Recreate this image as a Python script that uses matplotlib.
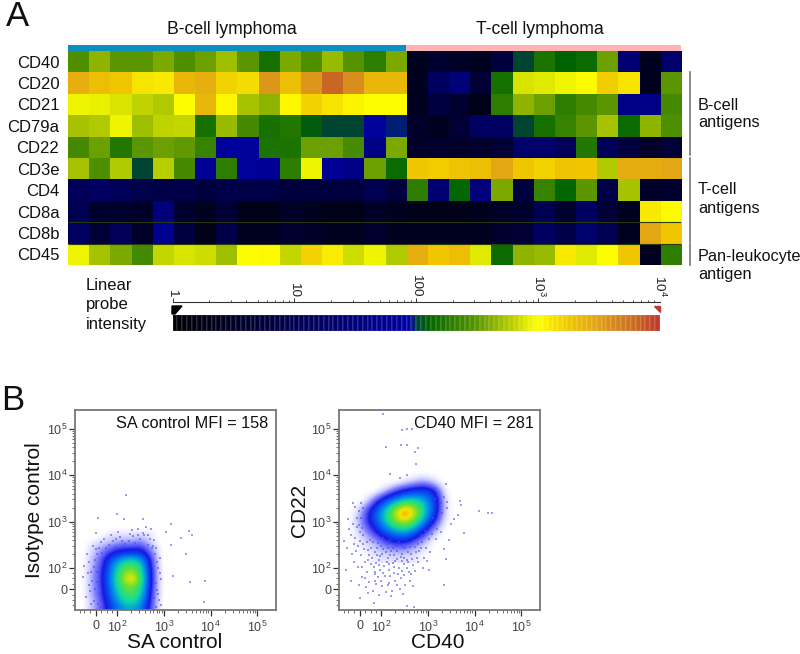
import numpy as np
import matplotlib
matplotlib.use("Agg")
import matplotlib.pyplot as plt
from matplotlib.colors import LinearSegmentedColormap, Normalize
from matplotlib.patches import Polygon
from matplotlib.ticker import NullLocator

plt.rcParams['font.family'] = ['Liberation Sans', 'DejaVu Sans']
plt.rcParams['mathtext.default'] = 'regular'
plt.rcParams['mathtext.fontset'] = 'custom'
plt.rcParams['mathtext.rm'] = 'Liberation Sans'

W, H = 800, 654

markers = ['CD40', 'CD20', 'CD21', 'CD79a', 'CD22', 'CD3e', 'CD4', 'CD8a', 'CD8b', 'CD45']
groups = ['B-cell lymphoma', 'T-cell lymphoma']
# log10 probe intensity, one row per marker
bcell = [
 [2.45,2.65,2.50,2.50,2.60,2.45,2.55,2.70,2.50,2.20,2.60,2.45,2.68,2.48,2.30,2.60],
 [3.40,3.30,3.25,3.12,3.10,3.35,3.40,3.20,3.15,3.55,3.30,3.55,3.80,3.60,3.35,3.35],
 [2.95,2.93,2.88,2.80,2.75,3.00,3.35,3.03,2.72,2.65,3.03,3.20,3.12,3.05,3.00,3.00],
 [2.72,2.75,2.95,2.70,2.80,2.82,2.20,2.68,2.40,2.20,2.25,2.08,2.02,2.02,1.85,1.98],
 [2.40,2.55,2.25,2.50,2.55,2.52,2.35,1.85,1.85,2.22,2.22,2.55,2.55,2.42,1.60,2.60],
 [2.72,2.45,2.75,2.02,2.78,2.40,1.80,2.30,1.85,1.80,2.30,2.95,1.80,1.60,2.55,2.15],
 [1.10,1.20,1.10,0.95,0.90,0.90,0.80,0.90,0.90,0.90,0.80,0.80,0.80,0.80,1.00,0.80],
 [1.00,0.60,0.60,0.50,1.50,0.60,0.40,0.70,0.30,0.30,0.50,0.40,0.30,0.30,0.50,0.40],
 [1.20,0.70,1.10,0.50,1.70,0.80,0.30,0.90,0.40,0.40,0.60,0.50,0.40,0.40,0.60,0.40],
 [2.95,2.72,2.60,2.40,2.82,2.88,2.85,2.70,3.00,3.02,2.82,3.20,3.08,2.85,2.95,2.75],
]
tcell = [
 [0.40,0.60,0.50,0.40,0.80,2.02,2.22,2.10,2.15,2.55,1.40,0.40,1.30],
 [0.40,1.20,1.45,0.70,2.20,2.88,2.90,2.95,3.02,3.22,3.12,0.40,2.50],
 [0.40,0.80,0.60,0.30,2.30,2.65,2.55,2.30,2.40,2.50,1.60,1.60,2.40],
 [0.50,0.40,0.70,1.20,1.20,2.02,2.20,2.35,2.50,2.72,2.15,2.65,2.45],
 [0.50,0.60,0.50,0.60,0.70,1.30,1.30,1.10,2.25,1.10,0.80,0.50,0.70],
 [3.25,3.22,3.28,3.30,3.45,3.25,3.20,3.27,3.25,2.75,3.42,3.42,3.45],
 [2.30,1.40,2.12,1.50,2.60,0.80,2.35,2.12,2.50,0.90,2.72,0.50,0.60],
 [0.30,0.30,0.30,0.40,0.50,0.60,1.00,0.60,1.20,0.70,0.40,3.10,3.02],
 [0.40,0.40,0.40,0.40,0.60,0.70,1.20,0.90,1.30,1.00,0.40,3.45,3.25],
 [3.40,3.25,3.30,2.90,2.15,2.65,2.68,3.10,2.90,3.00,3.25,0.40,2.30],
]
scale_ticks = [1, 10, 100, 1000, 10000]
scale_labels = ['1', '10', '100', '$10^3$', '$10^4$']

flow_ticks = [1.54, 2, 3, 4, 5]
flow_ticklabels = ['0', '$10^2$', '$10^3$', '$10^4$', '$10^5$']

d1_x = [1.1,1.3,1.5,1.7,1.9,2.1,2.3,2.5,2.7,2.9,3.1]
d1_y = [1.09,1.2,1.31,1.42,1.53,1.64,1.75,1.86,1.97,2.08,2.19,2.30,2.41,2.52,2.63,2.74,2.85,2.96]
d1 = [
 [0,0,.03,.08,.20,.30,.36,.26,.07,0,0],
 [0,0,.03,.08,.20,.34,.40,.30,.08,0,0],
 [0,0,.03,.09,.24,.42,.48,.36,.08,0,0],
 [0,0,.04,.10,.27,.46,.54,.40,.09,0,0],
 [0,0,.04,.10,.30,.50,.60,.44,.10,0,0],
 [0,0,.04,.11,.32,.54,.66,.48,.10,0,0],
 [0,0,.04,.11,.33,.60,.85,.50,.11,0,0],
 [0,0,.04,.11,.32,.56,.72,.48,.10,0,0],
 [0,0,.04,.10,.30,.52,.62,.46,.10,0,0],
 [0,0,.03,.09,.27,.44,.50,.40,.09,0,0],
 [0,0,.03,.08,.20,.32,.38,.30,.08,0,0],
 [0,0,.02,.06,.12,.16,.18,.18,.06,0,0],
 [0,0,.02,.04,.08,.10,.10,.11,.04,0,0],
 [0,0,.01,.02,.03,.05,.05,.06,.02,0,0],
 [0,0,0,.01,.02,.02,.02,.03,.01,0,0],
 [0,0,0,0,.01,.01,.01,.01,.01,0,0],
 [0,0,0,0,0,0,0,0,0,0,0],
 [0,0,0,0,0,0,0,0,0,0,0],
]
d2_x = [1.3,1.5,1.7,1.9,2.1,2.3,2.5,2.7,2.9,3.1,3.3,3.5]
d2_y = [2.2,2.4,2.6,2.8,3.0,3.2,3.4,3.6,3.8,4.0]
d2 = [
 [0,0,0,.01,.01,.01,.01,.01,0,0,0,0],
 [0,0,.01,.02,.03,.04,.04,.02,.01,0,0,0],
 [0,.01,.02,.04,.10,.14,.14,.08,.03,0,0,0],
 [0,.01,.05,.13,.24,.34,.38,.26,.12,.03,0,0],
 [0,.02,.10,.22,.42,.62,.72,.55,.30,.11,.01,0],
 [0,.01,.09,.24,.44,.72,.98,.75,.42,.20,.02,0],
 [0,0,.01,.10,.24,.38,.50,.50,.38,.21,.02,0],
 [0,0,0,0,.03,.10,.17,.21,.23,.17,.01,0],
 [0,0,0,0,0,0,.01,.03,.05,.02,0,0],
 [0,0,0,0,0,0,0,0,0,0,0,0],
]
# sparse events
p1_pts = [(2.19,3.58),(1.99,3.16),(1.60,3.07),(2.15,3.05),(2.55,3.05),(3.16,2.94),(3.53,2.80),(3.60,2.70),
 (3.37,2.65),(3.05,2.78),(3.15,2.50),(3.47,2.30),(3.20,1.82),(3.55,1.70),(3.88,1.72),(3.85,1.27),
 (1.55,2.75),(1.72,2.62),(1.88,2.70),(2.02,2.78),(2.28,2.73),(2.45,2.85),(2.62,2.88),(2.72,2.83),(2.80,2.60),
 (2.66,2.50),(1.48,2.48),(1.62,2.42),(1.36,2.30),(1.30,2.05),(1.27,1.80),(1.40,1.62),(1.34,1.38),(1.44,1.22),
 (2.92,2.22),(2.88,2.00),(2.95,1.75),(2.86,1.52),(2.90,1.30),(2.84,1.15),(1.52,2.18),(1.45,1.92),(1.57,1.70),
 (1.62,1.45),(1.58,2.30),(2.74,2.42),(2.35,2.68),(2.50,2.62),(2.10,2.58),(1.82,2.50),(2.82,2.30),(2.78,1.92),
 (1.40,2.12),(1.38,1.88),(1.42,1.50),(1.50,1.28),(1.46,1.72),(1.52,1.55),(1.50,2.02),(1.55,2.40),(1.66,2.55),
 (1.76,2.44),(1.92,2.58),(1.96,2.46),(2.06,2.66),(2.18,2.52),(2.26,2.58),(2.38,2.54),(2.44,2.70),(2.58,2.70),
 (2.70,2.62),(2.76,2.48),(2.84,2.44),(2.86,2.12),(2.92,1.88),(2.84,1.68),(2.88,1.44),(2.94,1.20),(2.80,1.36),
 (2.78,1.08),(1.60,1.22),(1.64,1.15),(1.58,1.92),(1.68,2.32),(2.32,2.82),(2.56,2.76),(2.66,2.72),(1.98,2.62)]
p2_pts = [(2.05,5.32),(2.42,5.42),(2.45,4.98),(2.56,5.00),(2.66,5.00),(2.10,4.62),(2.42,4.65),(2.55,4.66),(2.72,4.50),
 (2.78,4.58),(2.75,4.25),(2.40,3.95),(2.20,4.02),(2.55,4.00),(3.38,3.82),(3.15,3.72),(3.42,3.42),(3.68,3.45),
 (3.72,3.35),(3.65,3.15),(3.55,3.05),(3.40,3.30),(3.50,2.95),(3.15,3.48),(4.10,3.22),(4.28,3.18),(4.38,3.18),
 (3.78,2.75),(3.45,2.60),(3.35,2.40),(3.38,2.20),(3.35,1.62),
 (1.20,2.58),(1.32,2.85),(1.28,2.42),(1.38,2.30),(1.45,2.65),(1.50,2.48),(1.55,2.78),(1.42,2.12),(1.50,2.02),
 (1.58,2.28),(1.62,2.52),(1.66,2.12),(1.70,1.92),(1.72,2.38),(1.76,2.60),(1.80,2.22),(1.84,2.02),(1.88,1.86),
 (1.92,2.42),(1.95,2.18),(1.98,1.96),(2.02,2.30),(2.06,2.05),(2.08,1.82),(2.12,2.52),(2.15,2.22),(2.18,1.95),
 (2.22,2.36),(2.25,2.10),(2.28,1.88),(2.32,2.48),(2.35,2.20),(2.38,2.00),(2.42,1.78),(2.45,2.30),(2.48,2.08),
 (2.52,2.42),(2.56,2.18),(2.60,1.92),(2.64,2.30),(2.68,2.06),(2.72,2.45),(2.76,2.22),(2.82,2.36),(2.88,2.55),
 (2.92,2.22),(2.96,2.42),(3.02,2.62),(3.05,2.35),(1.25,1.95),(1.35,1.72),(1.52,1.62),(1.60,1.80),(1.68,1.58),
 (1.75,1.70),(1.82,1.50),(1.90,1.65),(1.95,1.42),(2.02,1.60),(2.10,1.48),(2.18,1.68),(2.24,1.50),(2.30,1.72),
 (2.40,1.55),(2.52,1.62),(2.62,1.72),(1.85,1.25),(2.55,1.18),(2.70,1.15),(1.55,1.35),(1.62,2.72),(1.48,2.88),
 (1.40,2.95),(1.30,3.05),(1.58,3.08),(1.52,3.22),(1.45,3.32),(1.40,3.40),(1.88,2.74),(2.05,2.65),(2.20,2.60),
 (1.72,2.16),(1.78,2.44),(1.90,2.10),(2.00,2.48),(2.10,2.34),(2.28,2.28),(2.44,2.14),(2.58,2.34),(2.70,2.58),
 (2.85,2.72),(2.95,2.80),(3.10,2.92),(3.22,3.05),(3.28,2.78),(3.18,2.62),
 (1.64,2.40),(1.70,2.56),(1.74,2.28),(1.82,2.56),(1.86,2.34),(1.94,2.54),(1.98,2.26),(2.04,2.40),(2.08,2.56),
 (2.14,2.42),(2.16,2.08),(2.20,2.28),(2.26,2.44),(2.30,2.14),(2.34,2.36),(2.38,2.56),(2.42,2.24),(2.46,2.46),
 (2.50,2.22),(2.54,2.52),(2.58,2.12),(2.62,2.46),(2.66,2.20),(2.74,2.34),(2.78,2.52),(2.80,2.12),(2.86,2.44),
 (1.78,2.08),(1.86,1.92),(1.92,2.28),(1.96,2.06),(2.04,1.90),(2.12,2.12),(2.20,1.82),(2.28,2.02),(2.36,1.86),
 (2.44,1.94),(2.50,1.84),(2.56,2.00),(2.64,1.86),(2.72,1.94),(1.66,1.78),(1.72,1.46),(1.86,1.72),(1.94,1.80),
 (2.00,1.72),(2.14,1.62),(2.22,1.40),(2.34,1.62),(2.46,1.44),(2.68,1.60),(2.90,2.00),(2.98,2.14),(3.02,1.96),
 (1.46,2.36),(1.54,2.58),(1.60,2.02),(1.42,2.52),(1.36,2.70),(1.52,2.92),(1.60,2.86),(1.48,3.08),(3.10,2.74),
 (3.04,2.86),(3.20,2.84),(3.12,3.08),(3.30,3.18),(3.28,3.40),(3.34,3.54),(3.22,3.58),(1.62,3.30),(1.58,3.40)]

# colour scale: log10 intensity 0..4
nodes = [(0.00,(0,0,0)),(1.00,(0,0,80)),(1.95,(0,0,165)),(2.02,(0,70,50)),(2.10,(0,100,0)),(2.50,(90,150,0)),
         (2.75,(175,200,0)),(3.00,(255,255,0)),(3.25,(240,200,0)),(3.50,(225,160,25)),(3.80,(200,105,35)),(4.00,(190,55,45))]
heat_cmap = LinearSegmentedColormap.from_list('probe', [(v/4, tuple(c/255 for c in rgb)) for v, rgb in nodes], N=512)
heat_norm = Normalize(0, 4)
flow_cmap = LinearSegmentedColormap.from_list('flow', [(0,(1,1,1)),(.012,(.88,.88,1)),(.05,(.5,.5,1)),(.12,(.08,.1,.9)),
    (.28,(0,.5,.95)),(.42,(.05,.85,.65)),(.58,(.4,.88,.2)),(.75,(.95,.9,0)),(.88,(1,.5,0)),(1,(.93,.1,.05))], N=512)

def axpx(x0, y0, x1, y1):
    return fig.add_axes([x0/W, 1-y1/H, (x1-x0)/W, (y1-y0)/H])

fig = plt.figure(figsize=(W/100, H/100), dpi=100, facecolor='white')

# overlay in pixel coordinates for labels and brackets
ov = fig.add_axes([0, 0, 1, 1], zorder=5)
ov.set_xlim(0, W); ov.set_ylim(H, 0); ov.axis('off'); ov.patch.set_alpha(0)

# heat map
ax = axpx(67.7, 51, 681, 265)
M = np.hstack([np.array(bcell), np.array(tcell)])
ncol = M.shape[1]
ax.imshow(M, aspect='auto', cmap=heat_cmap, norm=heat_norm, interpolation='nearest')
ax.set_xticks([]); ax.set_yticks(range(len(markers)))
ax.set_yticklabels(markers, fontsize=12, color='#111111')
ax.tick_params(axis='y', length=0, pad=6)
for s in ax.spines.values():
    s.set_visible(False)
ax.hlines([7.5, 8.5], -0.5, ncol-0.5, color='#2a3a10', lw=0.8)

# group bars
nb = len(bcell[0])
gb = axpx(67.7, 45, 681, 51)
gb.set_xlim(-0.5, ncol-0.5); gb.set_ylim(0, 1); gb.axis('off')
gb.barh(0.5, nb, left=-0.5, height=1, color='#0b8fbf')
gb.barh(0.5, ncol-nb, left=nb-0.5, height=1, color='#ffb3b3')
ov.text(232, 30, groups[0], ha='center', va='center', fontsize=12.7, color='#111111')
ov.text(540, 30, groups[1], ha='center', va='center', fontsize=12.7, color='#111111')
ov.text(18, 16, 'A', ha='center', va='center', fontsize=25, color='#111111')
ov.text(13, 400, 'B', ha='center', va='center', fontsize=25, color='#111111')

for y0, y1 in [(72, 155), (158, 241.5), (244, 265)]:
    ov.plot([689.5, 689.5], [y0, y1], color='#777777', lw=1.2)
ov.text(698, 114, 'B-cell\nantigens', ha='left', va='center', fontsize=11.7, linespacing=1.25, color='#111111')
ov.text(698, 199, 'T-cell\nantigens', ha='left', va='center', fontsize=11.7, linespacing=1.25, color='#111111')
ov.text(698, 266, 'Pan-leukocyte\nantigen', ha='left', va='center', fontsize=11.7, linespacing=1.25, color='#111111')
ov.text(86, 305, 'Linear\nprobe\nintensity', ha='left', va='center', fontsize=12, linespacing=1.4, color='#111111')

# colour scale bar
cb = axpx(172.5, 315, 660, 331)
edges = np.logspace(0, 4, 101)
cb.pcolormesh(edges, [0, 1], np.log10(np.sqrt(edges[:-1]*edges[1:]))[None, :], cmap=heat_cmap, norm=heat_norm,
              edgecolors='#ffffff18', linewidth=0.2)
cb.set_xscale('log'); cb.set_xlim(1, 10000); cb.axis('off')

sc = axpx(172.5, 298, 660, 302)
sc.set_xscale('log'); sc.set_xlim(1, 10000); sc.set_ylim(0, 1)
sc.patch.set_alpha(0)
for k in ['left', 'right', 'top']:
    sc.spines[k].set_visible(False)
sc.spines['bottom'].set_color('#333333')
sc.spines['bottom'].set_linewidth(0.8)
sc.set_yticks([])
sc.xaxis.tick_top()
sc.set_xticks(scale_ticks)
sc.set_xticklabels(scale_labels, rotation=-90, fontsize=9.7, color='#222222', va='bottom')
sc.tick_params(axis='x', which='major', direction='out', length=0, pad=1)
sc.xaxis.set_minor_locator(NullLocator())
minor = [m*10**k for k in range(4) for m in range(2, 10)]
sc.vlines(minor, 0, 0.6, color='#333333', lw=0.6)
sc.vlines(scale_ticks, 0, 1.0, color='#333333', lw=0.7)
ov.add_patch(Polygon([[172, 306], [182, 306], [175, 314], [172, 314]], closed=True, color='black'))
ov.add_patch(Polygon([[654, 306], [660, 306], [660, 312]], closed=True, color='#c0393b'))

# flow panels
def flow(x0, dx, dy, dens, pts, xlabel, ylabel, note, note_x, xl_x, yl_x):
    a = axpx(x0, 410, x0+201, 610)
    dx = np.array(dx); dy = np.array(dy)
    hx = (dx[1]-dx[0])/2; hy = (dy[1]-dy[0])/2
    a.imshow(np.array(dens), origin='lower', extent=[dx[0]-hx, dx[-1]+hx, dy[0]-hy, dy[-1]+hy], aspect='auto',
             cmap=flow_cmap, vmin=0, vmax=1, interpolation='bicubic', zorder=1)
    px, py = zip(*pts)
    a.scatter(px, py, s=1.3, color='#4a4ae8', alpha=0.55, linewidths=0, marker='s', zorder=2)
    a.set_xlim(1.1, 5.4); a.set_ylim(1.09, 5.41)
    a.set_xticks(flow_ticks); a.set_xticklabels(flow_ticklabels, fontsize=9, color='#444444')
    a.set_yticks(flow_ticks); a.set_yticklabels(flow_ticklabels, fontsize=9, color='#444444')
    mt = [np.log10(m)+k for k in range(2, 5) for m in range(2, 10)]+[1.2, 1.3, 1.42, 1.66, 1.78, 1.9]
    a.set_xticks(mt, minor=True); a.set_yticks(mt, minor=True)
    a.tick_params(which='major', length=4, width=0.9, color='#333333')
    a.tick_params(axis='x', which='major', pad=3)
    a.tick_params(axis='y', which='major', pad=1.5)
    a.tick_params(which='minor', length=2.2, width=0.6, color='#555555')
    for s in a.spines.values():
        s.set_color('#777777'); s.set_linewidth(1.3)
    ov.text(note_x, 423, note, ha='right', va='center', fontsize=11.7, color='#111111')
    ov.text(xl_x, 643, xlabel, ha='center', va='center', fontsize=15, color='#111111')
    ov.text(yl_x, 510, ylabel, ha='center', va='center', rotation=90, fontsize=15, color='#111111')

flow(75, d1_x, d1_y, d1, p1_pts, 'SA control', 'Isotype control', 'SA control MFI = 158', 268, 175, 35)
flow(339, d2_x, d2_y, d2, p2_pts, 'CD40', 'CD22', 'CD40 MFI = 281', 534, 438, 300)

fig.savefig('out.png', dpi=100)
